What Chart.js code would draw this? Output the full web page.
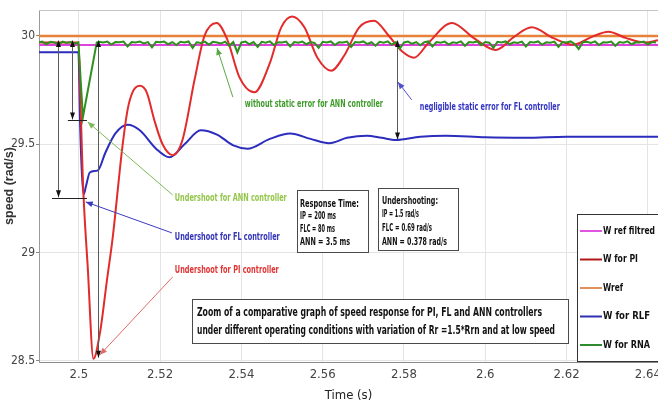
<!DOCTYPE html>
<html>
<head>
<meta charset="utf-8">
<script src="https://cdn.jsdelivr.net/npm/chart.js@4.4.1/dist/chart.umd.min.js"></script>
<style>
  html, body { margin: 0; padding: 0; background: #fff; }
  canvas { display: block; }
</style>
</head>
<body>
<canvas id="speedChart" width="658" height="403"></canvas>
<script>
// axis ticks
const xTicks = [2.5, 2.52, 2.54, 2.56, 2.58, 2.6, 2.62, 2.64];
const xTickLabels = ["2.5", "2.52", "2.54", "2.56", "2.58", "2.6", "2.62", "2.64"];
const yTicks = [28.5, 29, 29.5, 30];
const yTickLabels = ["28.5", "29", "29.5", "30"];

// Wref and W ref filtred
const wrefTime = [2.4902, 2.6425];
const wrefSpeed = [30, 30];
const filtTime = [2.4902, 2.6425];
const filtSpeed = [29.958, 29.958];

// W for PI
const piTime = [2.4902, 2.4999, 2.5004, 2.5010, 2.5022, 2.5036, 2.5052, 2.5069, 2.5084, 2.5098,
  2.5106, 2.5120, 2.5132, 2.5150, 2.5167, 2.5186, 2.5206, 2.5231, 2.5255, 2.5285,
  2.5309, 2.5339, 2.5366, 2.5395, 2.5432, 2.5469, 2.5498, 2.5525, 2.5555, 2.5587,
  2.5621, 2.5653, 2.5690, 2.5726, 2.5763, 2.5795, 2.5825, 2.5861, 2.5918, 2.5972,
  2.6026, 2.6070, 2.6114, 2.6168, 2.6217, 2.6261, 2.6303, 2.6347, 2.6394, 2.6425];
const piSpeed = [29.97, 29.97, 29.70, 29.33, 28.93, 28.51, 28.63, 28.87, 29.08, 29.33,
  29.47, 29.66, 29.74, 29.77, 29.74, 29.61, 29.50, 29.45, 29.52, 29.80,
  30.00, 30.06, 29.98, 29.81, 29.74, 29.87, 30.04, 30.09, 30.04, 29.90,
  29.84, 29.91, 30.04, 30.07, 30.00, 29.93, 29.90, 29.97, 30.06, 29.99,
  29.935, 29.995, 30.04, 29.99, 29.96, 29.995, 30.02, 29.99, 29.97, 29.98];

// W for RLF
const flTime = [2.4902, 2.4999, 2.5003, 2.5008, 2.5012, 2.5018, 2.5027, 2.5047, 2.5065, 2.5090,
  2.5120, 2.5150, 2.5190, 2.5223, 2.5260, 2.5300, 2.5340, 2.5380, 2.5415, 2.5470,
  2.5520, 2.5570, 2.5616, 2.5660, 2.5709, 2.5745, 2.5780, 2.5840, 2.5903, 2.6000,
  2.6100, 2.6200, 2.6300, 2.6425];
const flSpeed = [29.925, 29.925, 29.60, 29.35, 29.27, 29.31, 29.37, 29.38, 29.46, 29.55,
  29.59, 29.565, 29.48, 29.44, 29.50, 29.565, 29.545, 29.495, 29.48, 29.525,
  29.55, 29.525, 29.505, 29.53, 29.54, 29.53, 29.52, 29.535, 29.54, 29.532,
  29.53, 29.535, 29.535, 29.535];

// W for RNA
const annTime = [2.490, 2.491, 2.492, 2.493, 2.494, 2.495, 2.496, 2.497, 2.498, 2.499, 2.4999, 2.5010, 2.5044,
  2.505, 2.506, 2.507, 2.508, 2.509, 2.510, 2.511, 2.512, 2.513, 2.514,
  2.515, 2.516, 2.517, 2.518, 2.519, 2.520, 2.521, 2.522, 2.523, 2.524,
  2.525, 2.526, 2.527, 2.528, 2.529, 2.530, 2.531, 2.532, 2.533, 2.534,
  2.535, 2.536, 2.537, 2.538, 2.539, 2.540, 2.541, 2.542, 2.543, 2.544,
  2.545, 2.546, 2.547, 2.548, 2.549, 2.550, 2.551, 2.552, 2.553, 2.554,
  2.555, 2.556, 2.557, 2.558, 2.559, 2.560, 2.561, 2.562, 2.563, 2.564,
  2.565, 2.566, 2.567, 2.568, 2.569, 2.570, 2.571, 2.572, 2.573, 2.574,
  2.575, 2.576, 2.577, 2.578, 2.579, 2.580, 2.581, 2.582, 2.583, 2.584,
  2.585, 2.586, 2.587, 2.588, 2.589, 2.590, 2.591, 2.592, 2.593, 2.594,
  2.595, 2.596, 2.597, 2.598, 2.599, 2.600, 2.601, 2.602, 2.603, 2.604,
  2.605, 2.606, 2.607, 2.608, 2.609, 2.610, 2.611, 2.612, 2.613, 2.614,
  2.615, 2.616, 2.617, 2.618, 2.619, 2.620, 2.621, 2.622, 2.623, 2.624,
  2.625, 2.626, 2.627, 2.628, 2.629, 2.630, 2.631, 2.632, 2.633, 2.634,
  2.635, 2.636, 2.637, 2.638, 2.639, 2.640, 2.641, 2.642];
const annSpeed = [29.970, 29.974, 29.962, 29.973, 29.970, 29.960, 29.974, 29.968, 29.972, 29.964, 29.970, 29.625, 29.970,
  29.973, 29.970, 29.974, 29.960, 29.972, 29.971, 29.974, 29.952, 29.972, 29.970,
  29.974, 29.966, 29.972, 29.948, 29.973, 29.971, 29.974, 29.962, 29.972, 29.958,
  29.973, 29.970, 29.975, 29.945, 29.971, 29.968, 29.974, 29.960, 29.973, 29.970,
  29.966, 29.974, 29.955, 29.972, 29.925, 29.970, 29.974, 29.962, 29.972, 29.950,
  29.973, 29.969, 29.975, 29.958, 29.971, 29.970, 29.974, 29.952, 29.972, 29.969,
  29.974, 29.962, 29.972, 29.968, 29.945, 29.973, 29.970, 29.975, 29.958, 29.971,
  29.970, 29.974, 29.950, 29.972, 29.970, 29.975, 29.963, 29.971, 29.955, 29.973,
  29.969, 29.975, 29.960, 29.972, 29.942, 29.970, 29.974, 29.964, 29.972, 29.957,
  29.971, 29.975, 29.952, 29.972, 29.969, 29.974, 29.960, 29.971, 29.968, 29.975,
  29.955, 29.972, 29.970, 29.975, 29.958, 29.972, 29.969, 29.945, 29.973, 29.970,
  29.975, 29.962, 29.971, 29.968, 29.974, 29.952, 29.972, 29.970, 29.975, 29.960,
  29.971, 29.969, 29.974, 29.950, 29.972, 29.970, 29.975, 29.963, 29.940, 29.971,
  29.973, 29.968, 29.975, 29.958, 29.971, 29.970, 29.974, 29.955, 29.972, 29.969,
  29.975, 29.962, 29.971, 29.970, 29.974, 29.960, 29.972, 29.970];

const FONT = "'Liberation Sans Narrow', 'DejaVu Sans Condensed', 'Liberation Sans', Arial, sans-serif";

const pts = (t, v) => t.map((x, i) => ({ x: x, y: v[i] }));

// annotation stuff (data coords)
const measures = [
  { t: 2.4948, top: 29.968, bottom: 29.255, bar: [2.4934, 2.5020, 29.25] },
  { t: 2.4983, top: 29.968, bottom: 29.615, bar: [2.4973, 2.5020, 29.612] },
  { t: 2.5047, top: 29.968, bottom: 28.515 },
  { t: 2.5782, top: 29.968, bottom: 29.522 },
];

const pointers = [
  { text: "without static error for ANN controller", color: "#3f9b2b", line: "#5aa845", at: [2.54085, 29.686], w: 138, from: [2.5379, 29.718], to: [2.5340, 29.945] },
  { text: "negligible static error for FL controller", color: "#3434c4", line: "#5050d0", at: [2.58391, 29.672], w: 140, from: [2.5819, 29.705], to: [2.5785, 29.788] },
  { text: "Undershoot for ANN controller", color: "#93c64b", line: "#7cb85a", at: [2.52362, 29.248], w: 112, from: [2.5231, 29.266], to: [2.5022, 29.603] },
  { text: "Undershoot for FL controller", color: "#3232b8", line: "#3a3ac0", at: [2.52362, 29.072], w: 105, from: [2.5229, 29.091], to: [2.5017, 29.234] },
  { text: "Undershoot for PI controller", color: "#e03535", line: "#e06a6a", at: [2.52362, 28.916], w: 104, from: [2.5231, 28.888], to: [2.5052, 28.528] },
];

const boxes = [
  { x: 297, y: 190, w: 71, h: 62, tx: 300, size: 10,
    lines: ["Response Time:", "IP = 200 ms", "FLC = 80 ms", "ANN = 3.5 ms"], ty: [204, 216, 229, 242], tw: [59, 36, 35, 50] },
  { x: 378, y: 188, w: 80, h: 62, tx: 382, size: 10,
    lines: ["Undershooting:", "IP = 1.5 rad/s", "FLC = 0.69 rad/s", "ANN = 0.378 rad/s"], ty: [201, 214, 228, 242], tw: [56, 37, 50, 65] },
  { x: 192, y: 299, w: 376, h: 44, tx: 197, size: 13,
    lines: ["Zoom of a comparative graph of speed response for PI, FL and ANN controllers",
            "under different operating conditions with variation of Rr =1.5*Rrn and at low speed"], ty: [313, 331], tw: [345, 358] },
];

const legendItems = [
  { text: "W ref filtred", color: "#e055e0", w: 52 },
  { text: "W for PI", color: "#b01818", w: 35 },
  { text: "Wref", color: "#e0905a", w: 20 },
  { text: "W for RLF", color: "#3030b0", w: 47 },
  { text: "W for RNA", color: "#2e8b2e", w: 47 },
];

function head(ctx, x0, y0, x1, y1, len, half) {
  const a = Math.atan2(y1 - y0, x1 - x0);
  const c = Math.cos(a), s = Math.sin(a);
  ctx.beginPath();
  ctx.moveTo(x1, y1);
  ctx.lineTo(x1 - len * c + half * s, y1 - len * s - half * c);
  ctx.lineTo(x1 - len * c - half * s, y1 - len * s + half * c);
  ctx.closePath();
  ctx.fill();
}

const notes = {
  id: "notes",
  afterDatasetsDraw(chart) {
    const ctx = chart.ctx;
    const area = chart.chartArea;
    const X = t => chart.scales.x.getPixelForValue(t);
    const Y = v => chart.scales.y.getPixelForValue(v);
    ctx.save();

    // top frame line
    ctx.strokeStyle = "#c4c4c4";
    ctx.lineWidth = 1;
    ctx.beginPath();
    ctx.moveTo(area.left, area.top + 0.5);
    ctx.lineTo(area.right, area.top + 0.5);
    ctx.stroke();

    // black measuring arrows
    measures.forEach(m => {
      const x = Math.round(X(m.t)) + 0.5, y0 = Y(m.top), y1 = Y(m.bottom);
      ctx.strokeStyle = "#5a5a5a";
      ctx.lineWidth = 1;
      ctx.beginPath();
      ctx.moveTo(x, y0);
      ctx.lineTo(x, y1);
      ctx.stroke();
      ctx.fillStyle = "#111";
      head(ctx, x, y1, x, y0 - 3, 7, 2.5);
      head(ctx, x, y0, x, y1, 7, 2.5);
      if (m.bar) {
        ctx.strokeStyle = "#222";
        ctx.beginPath();
        const yb = Math.round(Y(m.bar[2])) + 0.5;
        ctx.moveTo(X(m.bar[0]), yb);
        ctx.lineTo(X(m.bar[1]), yb);
        ctx.stroke();
      }
    });

    // coloured pointers and captions
    pointers.forEach(p => {
      const x0 = X(p.from[0]), y0 = Y(p.from[1]), x1 = X(p.to[0]), y1 = Y(p.to[1]);
      ctx.strokeStyle = p.line;
      ctx.fillStyle = p.line;
      ctx.lineWidth = 1;
      ctx.beginPath();
      ctx.moveTo(x0, y0);
      ctx.lineTo(x1, y1);
      ctx.stroke();
      head(ctx, x0, y0, x1, y1, 7, 3);
      ctx.fillStyle = p.color;
      ctx.font = "bold 10px " + FONT;
      ctx.textAlign = "left";
      ctx.textBaseline = "middle";
      ctx.fillText(p.text, X(p.at[0]), Y(p.at[1]), p.w);
    });

    // text boxes
    boxes.forEach(b => {
      ctx.fillStyle = "#fff";
      ctx.fillRect(b.x, b.y, b.w, b.h);
      ctx.strokeStyle = "#4a4a4a";
      ctx.lineWidth = 1;
      ctx.strokeRect(b.x + 0.5, b.y + 0.5, b.w, b.h);
      ctx.fillStyle = "#111";
      ctx.font = "bold " + b.size + "px " + FONT;
      ctx.textAlign = "left";
      ctx.textBaseline = "middle";
      b.lines.forEach((s, i) => ctx.fillText(s, b.tx, b.ty[i], b.tw[i]));
    });

    // legend box in the lower right corner
    const lx = 577, ly = 214;
    ctx.fillStyle = "#fff";
    ctx.fillRect(lx, ly, area.right - lx + 2, area.bottom - ly);
    ctx.strokeStyle = "#333";
    ctx.lineWidth = 1;
    ctx.strokeRect(lx + 0.5, ly + 0.5, area.right - lx + 4, area.bottom - ly - 1);
    ctx.font = "bold 11px " + FONT;
    ctx.textBaseline = "middle";
    legendItems.forEach((it, i) => {
      const y = ly + 17 + i * 28.5;
      ctx.strokeStyle = it.color;
      ctx.lineWidth = 2;
      ctx.beginPath();
      ctx.moveTo(lx + 3, y);
      ctx.lineTo(lx + 25, y);
      ctx.stroke();
      ctx.fillStyle = "#111";
      ctx.fillText(it.text, lx + 26, y, it.w);
    });

    ctx.restore();
  },
};

new Chart(document.getElementById("speedChart"), {
  type: "line",
  data: {
    datasets: [
      { label: "W for RNA", data: pts(annTime, annSpeed), borderColor: "#2f8f1f", borderWidth: 2, tension: 0 },
      { label: "W for PI", data: pts(piTime, piSpeed), borderColor: "#e22b2b", borderWidth: 2, cubicInterpolationMode: "monotone" },
      { label: "W for RLF", data: pts(flTime, flSpeed), borderColor: "#2c2cbd", borderWidth: 2, cubicInterpolationMode: "monotone" },
      { label: "W ref filtred", data: pts(filtTime, filtSpeed), borderColor: "#e040e0", borderWidth: 2 },
      { label: "Wref", data: pts(wrefTime, wrefSpeed), borderColor: "#e8823a", borderWidth: 2.5 },
    ],
  },
  options: {
    responsive: false,
    animation: false,
    devicePixelRatio: 1,
    layout: { padding: { top: 10, left: 0, right: 0, bottom: 0 }, autoPadding: false },
    elements: { point: { radius: 0 } },
    plugins: {
      legend: { display: false },
      tooltip: { enabled: false },
    },
    scales: {
      x: {
        type: "linear",
        min: 2.4902,
        max: 2.6425,
        afterBuildTicks: axis => { axis.ticks = xTicks.map(v => ({ value: v })); },
        afterFit: axis => { axis.height = 41; axis.paddingLeft = 0; axis.paddingRight = 0; },
        grid: { color: "#e4e4e4", drawTicks: false },
        border: { color: "#8a8a8a" },
        ticks: {
          padding: 5,
          color: "#444",
          maxRotation: 0,
          autoSkip: false,
          font: { family: FONT, size: 13 },
          callback: (v, i) => xTickLabels[i],
        },
        title: {
          display: true,
          text: "Time (s)",
          color: "#222",
          font: { family: FONT, size: 13 },
          padding: { top: 0, bottom: 0 },
        },
      },
      y: {
        type: "linear",
        min: 28.495,
        max: 30.12,
        afterBuildTicks: axis => { axis.ticks = yTicks.map(v => ({ value: v })); },
        afterFit: axis => { axis.width = 39; axis.paddingTop = 0; axis.paddingBottom = 0; },
        grid: { color: "#e4e4e4", tickLength: 3, tickColor: "#888" },
        border: { color: "#9a9a9a" },
        ticks: {
          padding: 1,
          color: "#444",
          font: { family: FONT, size: 12 },
          callback: (v, i) => yTickLabels[i],
        },
        title: {
          display: true,
          text: "speed (rad/s)",
          color: "#333",
          font: { family: "'Liberation Sans', Arial, sans-serif", size: 12.5, weight: "bold" },
          padding: { top: 2, bottom: 0 },
        },
      },
    },
  },
  plugins: [notes],
});
</script>
</body>
</html>
